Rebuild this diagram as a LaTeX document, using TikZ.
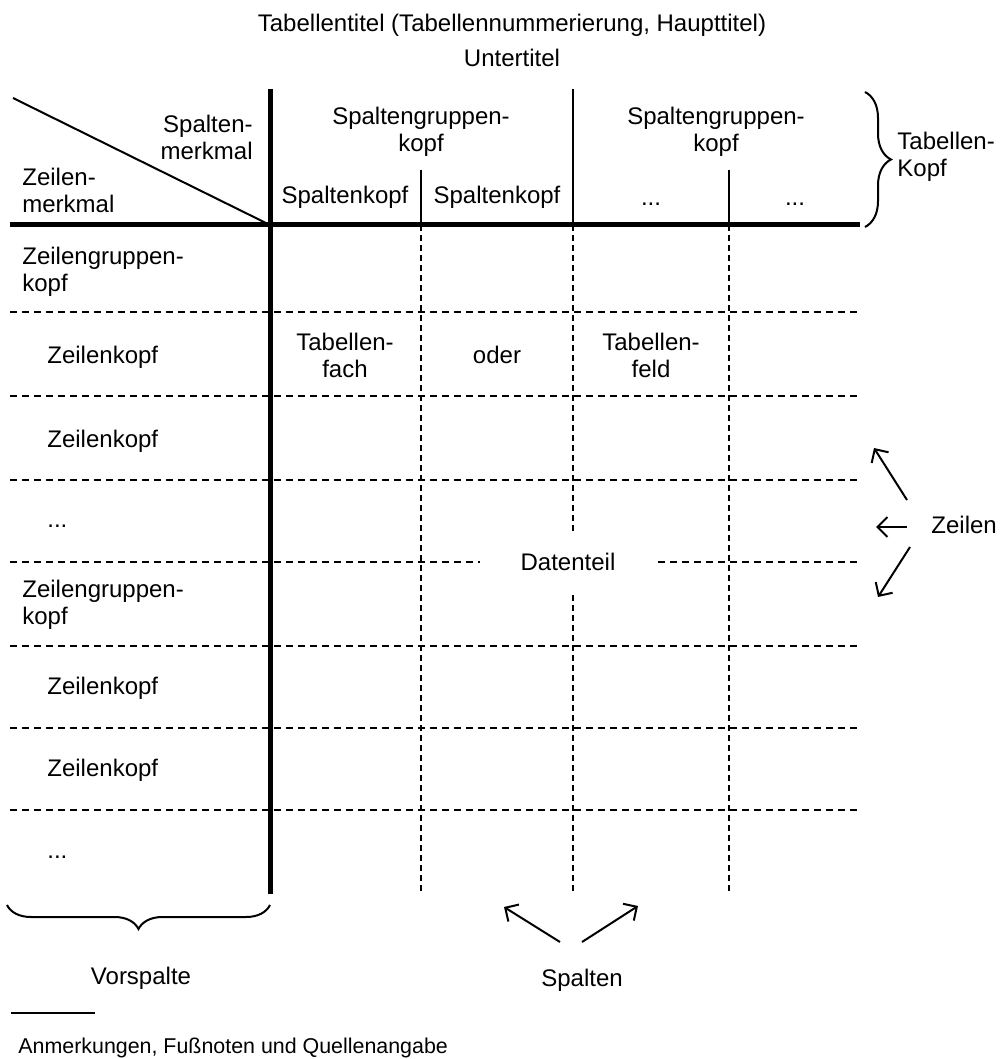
\documentclass[tikz,border=0pt]{standalone}
\usepackage{fontspec}
\setmainfont{Liberation Sans}
\usetikzlibrary{arrows.meta,decorations.pathreplacing}
\begin{document}
\begin{tikzpicture}[x=0.5pt,y=-0.5pt,
    every node/.style={inner sep=0pt,font=\fontsize{12}{13.5}\selectfont},
    thickline/.style={line width=2.5pt},
    thinline/.style={line width=1pt},
    vdash/.style={line width=1pt,dash pattern=on 3pt off 2pt},
    hdash/.style={line width=0.6pt,dash pattern=on 3.5pt off 2.5pt},
    klammer/.style={line width=1pt,decorate,decoration={brace,amplitude=#1}},
    pfeil/.style={line width=1pt,-{Straight Barb[length=5pt,width=10pt]}}]

    \useasboundingbox (0,0) rectangle (1003,1059);

    \node (titel) at (512,25) {Tabellentitel (Tabellennummerierung, Haupttitel)};
    \node (untertitel) at (512,58) {Untertitel};

    % Linien der Tabelle
    \foreach \x in {421,573,729}
        \draw[vdash] (\x,225) -- (\x,894);
    \foreach \y in {312,396,480,562,646,728,810}
        \draw[hdash] (10,\y) -- (860,\y);

    \draw[thinline] (13,98) -- (270,225);
    \draw[thinline] (573,89) -- (573,225);
    \draw[thinline] (421,170) -- (421,225);
    \draw[thinline] (729,170) -- (729,225);
    \draw[thickline] (270,89) -- (270,894);
    \draw[thickline] (10,225) -- (860,225);

    % Kopf
    \node[anchor=east,align=right] (spmerk) at (253,137) {Spalten-\\merkmal};
    \node[anchor=west,align=left] (zlmerk) at (22,190) {Zeilen-\\merkmal};
    \node[align=center] (sgkopfa) at (421,132) {Spaltengruppen-\\kopf};
    \node[align=center] (sgkopfb) at (716,132) {Spaltengruppen-\\kopf};
    \node (skopfa) at (345,197) {Spaltenkopf};
    \node (skopfb) at (497,197) {Spaltenkopf};
    \node (skopfc) at (651,204) {...};
    \node (skopfd) at (795,204) {...};

    % Vorspalte
    \node[anchor=west,align=left] (zgkopfa) at (22,272) {Zeilengruppen-\\kopf};
    \node[anchor=west] (zkopfa) at (47,357) {Zeilenkopf};
    \node[anchor=west] (zkopfb) at (47,441) {Zeilenkopf};
    \node[anchor=west] (zkopfc) at (47,526) {...};
    \node[anchor=west,align=left] (zgkopfb) at (22,605) {Zeilengruppen-\\kopf};
    \node[anchor=west] (zkopfd) at (47,688) {Zeilenkopf};
    \node[anchor=west] (zkopfe) at (47,770) {Zeilenkopf};
    \node[anchor=west] (zkopff) at (47,857) {...};

    % Datenteil
    \node[align=center] (fach) at (345,355) {Tabellen-\\fach};
    \node (oder) at (497,355) {oder};
    \node[align=center] (feld) at (651,355) {Tabellen-\\feld};
    \node[fill=white,minimum width=88pt,minimum height=30pt] (daten) at (568,562) {Datenteil};

    % Klammern und Pfeile
    \draw[klammer=13pt] (865,92) -- (865,227);
    \node[anchor=west,align=left] (tkopf) at (897,157) {Tabellen-\\Kopf};
    \draw[klammer=12pt] (270,905) -- (7,905);
    \node (vorspalte) at (141,978) {Vorspalte};

    \node[anchor=west] (zeilen) at (931,525) {Zeilen};
    \coordinate (zla) at (907,500);
    \coordinate (zlb) at (907,527);
    \coordinate (zlc) at (910,547);
    \coordinate (zoben) at (874,448);
    \coordinate (zmitte) at (876,527);
    \coordinate (zunten) at (878,597);
    \draw[pfeil] (zla) -- (zoben);
    \draw[pfeil] (zlb) -- (zmitte);
    \draw[pfeil] (zlc) -- (zunten);

    \node (spalten) at (582,980) {Spalten};
    \coordinate (spa) at (560,942);
    \coordinate (spb) at (582,942);
    \coordinate (slinks) at (504,907);
    \coordinate (srechts) at (638,906);
    \draw[pfeil] (spa) -- (slinks);
    \draw[pfeil] (spb) -- (srechts);

    % Fussnote
    \draw[thinline] (11,1013) -- (95,1013);
    \node[anchor=west,font=\fontsize{10.7}{13}\selectfont] (anm) at (18,1048) {Anmerkungen, Fußnoten und Quellenangabe};

\end{tikzpicture}
\end{document}
